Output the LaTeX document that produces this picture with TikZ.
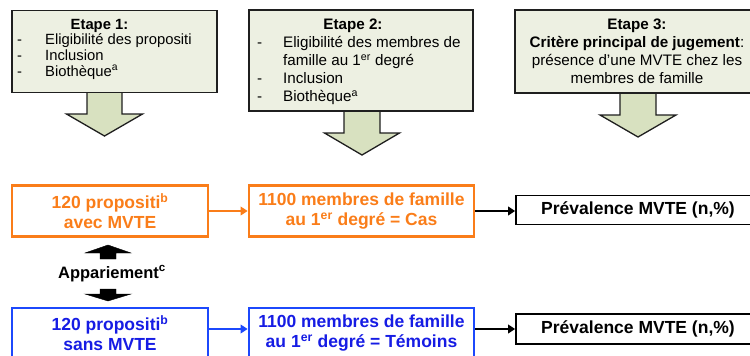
\documentclass[tikz,border=0pt]{standalone}
\usepackage{fontspec}
\setmainfont{Liberation Sans}
\usetikzlibrary{arrows.meta}
\definecolor{boxfill}{RGB}{237,240,226}
\definecolor{arrfill}{RGB}{216,225,192}
\definecolor{orng}{RGB}{250,125,25}
\definecolor{blu}{RGB}{28,72,252}
\definecolor{blutxt}{RGB}{22,28,228}
\newcommand\blkarr[6]{% cx, top, shaft half, head half, head base, tip
  \draw[blockarr] ({#1-#3},#2) -- ({#1-#3},#5) -- ({#1-#4},#5) -- (#1,#6) -- ({#1+#4},#5) -- ({#1+#3},#5) -- ({#1+#3},#2) -- cycle;}
\begin{document}
\begin{tikzpicture}[x=1pt,y=-1pt,
  stepbox/.style={draw=black!88, fill=boxfill, line width=1.6pt, rectangle, inner sep=0pt},
  blockarr/.style={draw=black!88, fill=arrfill, line width=1.3pt, line join=miter},
  blackarr/.style={draw=black, fill=black, line width=0.4pt},
  txt/.style={inner sep=0pt, font=\fontsize{15.2}{18}\selectfont},
  txtsmall/.style={inner sep=0pt, font=\fontsize{14.8}{15.5}\selectfont},
  casbox/.style={draw=orng, line width=2.6pt, text=orng, rectangle, inner sep=0pt, align=center, font=\fontsize{17.5}{20}\selectfont\bfseries},
  tembox/.style={draw=blu, line width=2.6pt, text=blutxt, rectangle, inner sep=0pt, align=center, font=\fontsize{17.5}{20}\selectfont\bfseries},
  prevbox/.style={draw=black, line width=1.6pt, rectangle, inner sep=0pt, align=center, font=\fontsize{17.5}{20}\selectfont\bfseries},
  link/.style={line width=2.6pt, -{Triangle[length=7pt,width=8.5pt]}}
]
\useasboundingbox (0,0) rectangle (750,356);
\clip (0,0) rectangle (750,356);

% block arrows under the step boxes
\blkarr{104.5}{91}{17.5}{38}{114}{136}
\blkarr{362}{109}{18}{37.5}{133}{155}
\blkarr{638}{91}{18}{38}{115}{137}

% step boxes
\node[stepbox, minimum width=205pt, minimum height=82pt] (e1) at (114.5,51.5) {};
\node[stepbox, minimum width=224pt, minimum height=101pt] (e2) at (361,60.5) {};
\node[stepbox, minimum width=245pt, minimum height=83pt] (e3) at (637.5,51.5) {};

% step 1 text
\node[txtsmall, anchor=base] (e1t) at (99.5,29.5) {\bfseries Etape 1:};
\node[txtsmall, anchor=base west] (e1d1) at (17,45) {-};
\node[txtsmall, anchor=base west] (e1l1) at (45,45) {Eligibilité des propositi};
\node[txtsmall, anchor=base west] (e1d2) at (17,60.5) {-};
\node[txtsmall, anchor=base west] (e1l2) at (45,60.5) {Inclusion};
\node[txtsmall, anchor=base west] (e1d3) at (17,76) {-};
\node[txtsmall, anchor=base west] (e1l3) at (45,76) {Biothèque\textsuperscript{a}};

% step 2 text
\node[txt, anchor=base] (e2t) at (353,29.5) {\bfseries Etape 2:};
\node[txt, anchor=base west] (e2d1) at (257,47.5) {-};
\node[txt, anchor=base west] (e2l1) at (283,47.5) {Eligibilité des membres de};
\node[txt, anchor=base west] (e2l1b) at (283,65.5) {famille au 1\textsuperscript{er} degré};
\node[txt, anchor=base west] (e2d2) at (257,83.5) {-};
\node[txt, anchor=base west] (e2l2) at (283,83.5) {Inclusion};
\node[txt, anchor=base west] (e2d3) at (257,101.5) {-};
\node[txt, anchor=base west] (e2l3) at (283,101.5) {Biothèque\textsuperscript{a}};

% step 3 text
\node[txt, anchor=base] (e3t) at (637,29.5) {\bfseries Etape 3:};
\node[txt, anchor=base] (e3l1) at (637,47.5) {\bfseries Critère principal de jugement\mdseries:};
\node[txt, anchor=base] (e3l2) at (637,65.5) {présence d’une MVTE chez les};
\node[txt, anchor=base] (e3l3) at (637,83.5) {membres de famille};

% case row
\node[casbox, minimum width=196pt, minimum height=51pt] (c1) at (110,211) {120 propositi\textsuperscript{b}\\avec MVTE};
\node[casbox, minimum width=225pt, minimum height=51pt] (c2) at (361.5,211) {1100 membres de famille\\au 1\textsuperscript{er} degré = Cas};
\node[prevbox, minimum width=244pt, minimum height=29pt] (p1) at (638,210) {Prévalence MVTE (n,\%)};

% control row
\node[tembox, minimum width=196pt, minimum height=51pt] (b1) at (110,333.5) {120 propositi\textsuperscript{b}\\sans MVTE};
\node[tembox, minimum width=225pt, minimum height=51pt] (b2) at (361.5,333.5) {1100 membres de famille\\au 1\textsuperscript{er} degré = Témoins};
\node[prevbox, minimum width=244pt, minimum height=30pt] (p2) at (638,329) {Prévalence MVTE (n,\%)};

% connectors
\draw[link, orng] (c1.east) -- (c2.west);
\draw[link, black] (c2.east) -- (c2.east -| p1.west);
\draw[link, blu] (b1.east |- p2.west) -- (b2.west |- p2.west);
\draw[link, black] (b2.east |- p2.west) -- (p2.west);

% matching
\node[inner sep=0pt, font=\fontsize{16.5}{18}\selectfont\bfseries, anchor=base] (app) at (112,278) {Appariement\textsuperscript{c}};
\draw[blackarr] (100,259) -- (100,253) -- (85,253) -- (108,245) -- (131,253) -- (116,253) -- (116,259) -- cycle;
\draw[blackarr] (100,289) -- (100,294) -- (85,294) -- (108,301) -- (131,294) -- (116,294) -- (116,289) -- cycle;
\end{tikzpicture}
\end{document}
